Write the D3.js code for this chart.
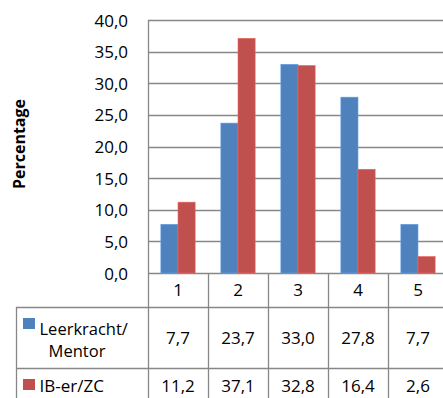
<!DOCTYPE html>
<html><head><meta charset="utf-8">
<script src="https://cdn.jsdelivr.net/npm/d3@7"></script>
<style>
html,body{margin:0;padding:0;background:#fff;}
svg{display:block;}
text{font-family:"Open Sans",sans-serif;fill:#000;}
</style></head>
<body>
<script>
const categories = ["1","2","3","4","5"];
const seriesNames = ["Leerkracht/\nMentor","IB-er/ZC"];
const leerkracht = [7.7,23.7,33.0,27.8,7.7];
const ibzc = [11.2,37.1,32.8,16.4,2.6];
const yTicks = [0,5,10,15,20,25,30,35,40];
const colors = ["#4F81BD","#C0504D"];

const W=443,H=398;
const fmt = v => d3.format(".1f")(v).replace(".", ",");
const svg = d3.select("body").append("svg").attr("width",W).attr("height",H);

const x0 = 148, x1 = 448, yTop = 20, yBase = 273;
const x = d3.scaleBand().domain(categories).range([x0,x1]).padding(0);
const y = d3.scaleLinear().domain([0,40]).range([yBase,yTop]);
const series = [leerkracht, ibzc];
const barW = x.bandwidth()/3.5;
const grid = "#878787";

// gridlines
svg.append("g").selectAll("line").data(yTicks).join("line")
  .attr("x1",x0).attr("x2",x1)
  .attr("y1",d=>Math.round(y(d))+0.5).attr("y2",d=>Math.round(y(d))+0.5)
  .attr("stroke",grid).attr("stroke-width",1.3);

// tick labels
svg.append("g").selectAll("text").data(yTicks).join("text")
  .attr("x",128).attr("y",d=>y(d)+6.5)
  .attr("text-anchor","end").style("font-size","17px")
  .text(d=>fmt(d));

// bars
series.forEach((s,si)=>{
  svg.append("g").selectAll("rect").data(s).join("rect")
    .attr("x",(d,i)=>x(categories[i])+x.bandwidth()/2 - barW + si*barW)
    .attr("width",barW)
    .attr("y",d=>y(d)).attr("height",d=>yBase-y(d))
    .attr("fill",colors[si])
    .attr("stroke",d3.color(colors[si]).brighter(0.6)).attr("stroke-width",0.6);
});

// axis line
svg.append("line").attr("x1",x0+0.5).attr("x2",x0+0.5).attr("y1",yTop).attr("y2",H)
  .attr("stroke",grid).attr("stroke-width",1.3);

// data table
const rowH1 = 307, rowH2 = 368, tableLeft = 16;
const tg = svg.append("g");
tg.selectAll("line.col").data(categories).join("line")
  .attr("x1",d=>x(d)+x.bandwidth()+0.5).attr("x2",d=>x(d)+x.bandwidth()+0.5)
  .attr("y1",yBase).attr("y2",H).attr("stroke",grid).attr("stroke-width",1.3);
[rowH1,rowH2].forEach(yy=>{
  tg.append("line").attr("x1",tableLeft).attr("x2",x1).attr("y1",yy+0.5).attr("y2",yy+0.5)
    .attr("stroke",grid).attr("stroke-width",1.3);
});
tg.append("line").attr("x1",tableLeft+0.5).attr("x2",tableLeft+0.5).attr("y1",rowH1).attr("y2",H)
  .attr("stroke",grid).attr("stroke-width",1.3);

// header
tg.selectAll("text.hdr").data(categories).join("text")
  .attr("x",d=>x(d)+x.bandwidth()/2).attr("y",296)
  .attr("text-anchor","middle").style("font-size","17px").text(d=>d);

// row values
const rowBase = [343.5, 391.5];
series.forEach((s,si)=>{
  tg.append("g").selectAll("text").data(s).join("text")
    .attr("x",(d,i)=>x(categories[i])+x.bandwidth()/2).attr("y",rowBase[si])
    .attr("text-anchor","middle").style("font-size","17px").text(d=>fmt(d));
});

// legend keys and labels
tg.append("rect").attr("x",23).attr("y",318).attr("width",12).attr("height",11).attr("fill",colors[0]);
const lines = seriesNames[0].split("\n");
tg.append("text").attr("x",39.5).attr("y",334.5).style("font-size","16.5px").text(lines[0]);
tg.append("text").attr("x",77).attr("y",357).attr("text-anchor","middle").style("font-size","16.5px").text(lines[1]);
tg.append("rect").attr("x",23).attr("y",379).attr("width",12).attr("height",11).attr("fill",colors[1]);
tg.append("text").attr("x",39.5).attr("y",391.5).style("font-size","17px").text(seriesNames[1]);

// y title
svg.append("text").attr("transform","translate(24.5,144) rotate(-90)")
  .attr("text-anchor","middle").style("font-size","16px").style("font-weight","bold")
  .text("Percentage");
</script>
</body></html>
